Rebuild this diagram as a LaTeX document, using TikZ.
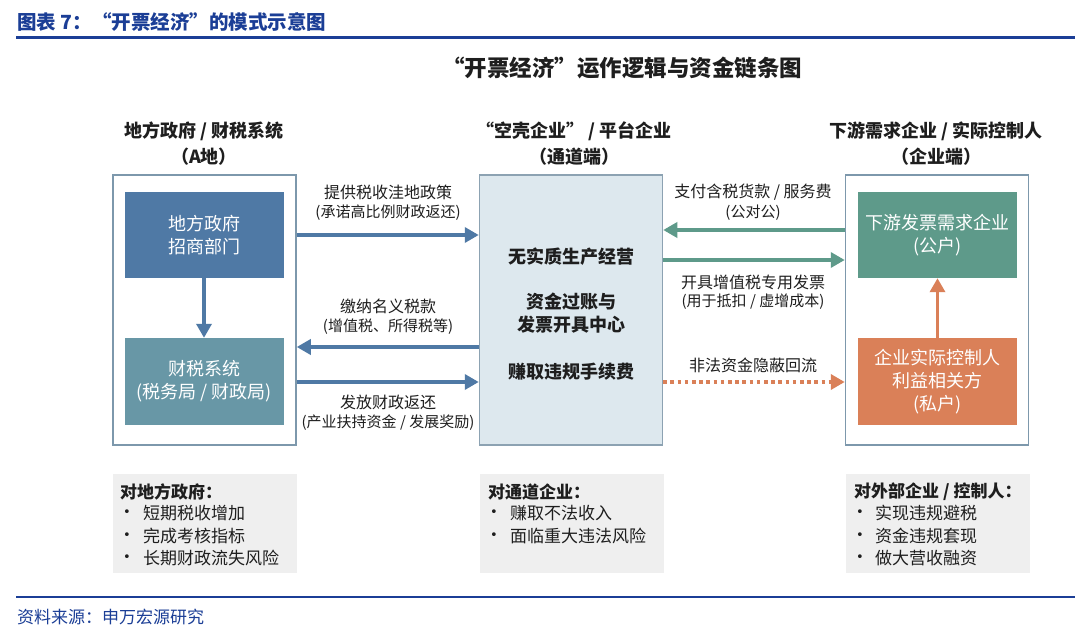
\documentclass[tikz,border=0pt]{standalone}
\usepackage{fontspec}
\setmainfont{Noto Sans CJK SC}
\newfontfamily\dvsans{DejaVu Sans}
\usetikzlibrary{arrows.meta,calc}
\definecolor{ttlblue}{RGB}{27,62,150}
\definecolor{lbox1}{RGB}{79,121,165}
\definecolor{lbox2}{RGB}{104,151,166}
\definecolor{midfill}{RGB}{221,232,238}
\definecolor{midline}{RGB}{140,162,178}
\definecolor{outline}{RGB}{125,152,172}
\definecolor{rgreen}{RGB}{94,154,138}
\definecolor{rorange}{RGB}{218,128,88}
\definecolor{panel}{RGB}{239,239,239}
\definecolor{txt}{RGB}{30,30,30}
\begin{document}
\begin{tikzpicture}[x=1pt,y=-1pt,
  hdr/.style={font=\fontsize{18}{26}\selectfont\bfseries, text=txt, align=center, inner sep=0pt},
  outerbox/.style={draw=outline, line width=1.5pt, fill=white, minimum width=183pt, minimum height=270pt, inner sep=0pt},
  colbox/.style={minimum width=159pt, minimum height=86pt, inner sep=0pt, text=white, align=center, font=\fontsize{18}{23}\selectfont},
  lbl/.style={font=\fontsize{16}{20}\selectfont, text=txt, inner sep=0pt},
  lbls/.style={font=\fontsize{15}{20}\selectfont, text=txt, inner sep=0pt},
  midtxt/.style={font=\fontsize{18}{23}\selectfont\bfseries, text=txt, inner sep=0pt},
  arr/.style={line width=3.4pt, -{Triangle[length=14pt,width=15pt]}},
  pnl/.style={fill=panel, minimum width=184pt, minimum height=99pt, inner sep=0pt},
  ptitle/.style={font=\fontsize{17}{20}\selectfont\bfseries, text=txt, anchor=west, inner sep=0pt},
  pitem/.style={font=\fontsize{17}{20}\selectfont, text=txt, anchor=west, inner sep=0pt},
  bul/.style={font=\dvsans\fontsize{13}{20}\selectfont, text=txt, inner sep=0pt}
]
\useasboundingbox[fill=white] (0,0) rectangle (1080,634);

% top title and rule
\node[font=\fontsize{19.5}{22}\selectfont\bfseries, text=ttlblue, anchor=west, inner sep=0pt] (title) at (17,22) {图表 7：“开票经济”的模式示意图};
\coordinate (r1a) at (16,37.5); \coordinate (r1b) at (1075,37.5);
\draw[ttlblue, line width=2.2pt] (r1a) -- (r1b);

% diagram title
\node[font=\fontsize{22.5}{26}\selectfont\bfseries, text=txt, inner sep=0pt] (dtitle) at (622,68) {“开票经济”运作逻辑与资金链条图};

% headers
\node[hdr] (h1a) at (204,131) {地方政府 / 财税系统};
\node[hdr] (h1b) at (204,157) {（A地）};
\node[hdr] (h2a) at (574,131) {“空壳企业” / 平台企业};
\node[hdr] (h2b) at (574,157) {（通道端）};
\node[hdr] (h3a) at (936,131) {下游需求企业 / 实际控制人};
\node[hdr] (h3b) at (936,157) {（企业端）};

% outer boxes
\node[outerbox] (lout) at (204.5,310) {};
\node[outerbox, fill=midfill, draw=midline] (mid) at (571,310) {};
\node[outerbox] (rout) at (937,310) {};

% inner boxes
\node[colbox, fill=lbox1] (gov) at (204,235) {地方政府\\招商部门};
\node[colbox, fill=lbox2, minimum height=87pt] (tax) at (204,381.5) {财税系统\\(税务局 / 财政局)};
\node[colbox, fill=rgreen] (down) at (937.5,235) {下游发票需求企业\\(公户)};
\node[colbox, fill=rorange, minimum height=87pt] (ctrl) at (937.5,381.5) {企业实际控制人\\利益相关方\\(私户)};

\draw[arr, lbox1] (gov) -- (tax);
\draw[arr, rorange] (ctrl) -- (down);

% middle text
\node[midtxt] (m1) at (571,257) {无实质生产经营};
\node[midtxt] (m2) at (571,302) {资金过账与};
\node[midtxt] (m3) at (571,325) {发票开具中心};
\node[midtxt] (m4) at (571,372) {赚取违规手续费};

% left arrows
\draw[arr, lbox1] (lout.east |- 0,235) -- (mid.west |- 0,235);
\node[lbl] (l1a) at (388,192) {提供税收洼地政策};
\node[lbls] (l1b) at (388,213) {(承诺高比例财政返还)};
\draw[arr, lbox1] (mid.west |- 0,347) -- (lout.east |- 0,347);
\node[lbl] (l2a) at (388,306) {缴纳名义税款};
\node[lbls] (l2b) at (388,327) {(增值税、所得税等)};
\draw[arr, lbox1] (lout.east |- 0,382) -- (mid.west |- 0,382);
\node[lbl] (l3a) at (388,402) {发放财政返还};
\node[lbls] (l3b) at (388,423) {(产业扶持资金 / 发展奖励)};

% right arrows
\draw[arr, rgreen] (rout.west |- 0,230) -- (mid.east |- 0,230);
\node[lbl] (r1l) at (753,192) {支付含税货款 / 服务费};
\node[lbls] (r1s) at (753,213) {(公对公)};
\draw[arr, rgreen] (mid.east |- 0,260) -- (rout.west |- 0,260);
\node[lbl] (r2l) at (753,282) {开具增值税专用发票};
\node[lbls] (r2s) at (753,302) {(用于抵扣 / 虚增成本)};
\draw[rorange, line width=3.6pt, dash pattern=on 3.6pt off 3.6pt, -{Triangle[length=14pt,width=15pt]}] (mid.east |- 0,382) -- (rout.west |- 0,382);
\node[lbl] (r3l) at (753,365) {非法资金隐蔽回流};

% bottom panels
\node[pnl] (p1) at (205,523.5) {};
\node[ptitle] (p1t) at (120,492) {对地方政府：};
\node[bul] (p1b1) at (127,513) {•}; \node[pitem] (p1i1) at (143,513) {短期税收增加};
\node[bul] (p1b2) at (127,536) {•}; \node[pitem] (p1i2) at (143,536) {完成考核指标};
\node[bul] (p1b3) at (127,558) {•}; \node[pitem] (p1i3) at (143,558) {长期财政流失风险};

\node[pnl] (p2) at (572,523.5) {};
\node[ptitle] (p2t) at (488,492) {对通道企业：};
\node[bul] (p2b1) at (494,513) {•}; \node[pitem] (p2i1) at (510,513) {赚取不法收入};
\node[bul] (p2b2) at (494,536) {•}; \node[pitem] (p2i2) at (510,536) {面临重大违法风险};

\node[pnl] (p3) at (938,523.5) {};
\node[ptitle] (p3t) at (854,492) {对外部企业 / 控制人：};
\node[bul] (p3b1) at (860,513) {•}; \node[pitem] (p3i1) at (875,513) {实现违规避税};
\node[bul] (p3b2) at (860,536) {•}; \node[pitem] (p3i2) at (875,536) {资金违规套现};
\node[bul] (p3b3) at (860,558) {•}; \node[pitem] (p3i3) at (875,558) {做大营收融资};

% bottom rule and source
\coordinate (r2a) at (16,597); \coordinate (r2b) at (1075,597);
\draw[ttlblue, line width=2.2pt] (r2a) -- (r2b);
\node[font=\fontsize{17}{20}\selectfont, text=ttlblue, anchor=west, inner sep=0pt] (src) at (17,617) {资料来源：申万宏源研究};
\end{tikzpicture}
\end{document}
